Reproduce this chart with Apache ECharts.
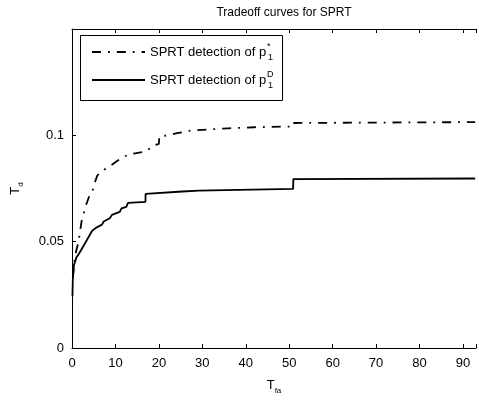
<!DOCTYPE html>
<html>
<head>
<meta charset="utf-8">
<script src="https://cdn.jsdelivr.net/npm/echarts@6/dist/echarts.min.js"></script>
<style>html,body{margin:0;padding:0;background:#fff;}#c{width:479px;height:400px;}</style>
</head>
<body>
<div id="c"></div>
<script>
// Data
const starX = [0.2, 0.5, 1.0, 1.5, 2.2, 3.1, 3.9, 4.6, 5.0, 5.8, 6.4, 7.5, 8.7, 10.3, 11.4, 13.0, 14.8, 17.1, 18.5, 20.0, 20.1, 22.0, 24.2, 27.4, 30, 36, 42, 48, 50.5, 50.6, 60, 70, 80, 92.8];
const starY = [0.033, 0.040, 0.046, 0.050, 0.0595, 0.0664, 0.071, 0.0725, 0.0763, 0.081, 0.0824, 0.084, 0.0855, 0.0878, 0.0893, 0.091, 0.0916, 0.0924, 0.095, 0.096, 0.0995, 0.100, 0.101, 0.1023, 0.1026, 0.1033, 0.1038, 0.1041, 0.1041, 0.1058, 0.1059, 0.106, 0.1061, 0.1062];
const dX = [0.1, 0.2, 0.45, 1.0, 1.6, 3.1, 4.6, 5.5, 6.9, 7.3, 8.7, 9.2, 11.0, 11.4, 12.5, 12.9, 16.9, 16.95, 25.4, 29.2, 50.9, 50.95, 92.8];
const dY = [0.0244, 0.033, 0.039, 0.0425, 0.0443, 0.0496, 0.055, 0.0565, 0.058, 0.0595, 0.061, 0.0626, 0.064, 0.0657, 0.0664, 0.0682, 0.0687, 0.0725, 0.0736, 0.074, 0.0748, 0.0794, 0.0797];
const xTickLabels = [0, 10, 20, 30, 40, 50, 60, 70, 80, 90];
const yTickLabels = ['0', '0.05', '0.1'];
const seriesNames = ['SPRT detection of p1*', 'SPRT detection of p1D'];
const legendSup = ['*', 'D'];

const FONT = 'Liberation Sans, Arial, Helvetica, sans-serif';
const DASHDOT = [9, 7, 1.8, 7];
const zip = (xs, ys) => xs.map((x, i) => [x, ys[i]]);

const chart = echarts.init(document.getElementById('c'), null, {renderer: 'canvas'});
const axisCommon = {
  type: 'value', min: 0, max: 93, interval: 10,
  axisLine: {show: true, lineStyle: {color: '#000', width: 1}},
  axisTick: {show: true, inside: true, length: 4, lineStyle: {color: '#000'}},
  splitLine: {show: false}
};

// Legend drawn as graphic (box, line samples, real text)
const legendGraphic = [
  {type: 'rect', left: 80, top: 35, shape: {width: 202, height: 65},
   style: {fill: '#fff', stroke: '#000', lineWidth: 1}, z: 100}
];
seriesNames.forEach((n, i) => {
  const y = 52 + i * 28;
  legendGraphic.push({
    type: 'line', shape: {x1: 92, y1: y, x2: 145, y2: y}, z: 101,
    style: {stroke: '#000', lineWidth: 1.8, lineDash: i === 0 ? DASHDOT : null}
  });
  legendGraphic.push({
    type: 'text', x: 150, y: y, z: 101,
    style: {
      text: '{t|SPRT detection of p}{sup|' + legendSup[i] + '}{sub|1}',
      verticalAlign: 'middle', fill: '#000', font: '13px ' + FONT,
      rich: {
        t: {fontFamily: FONT, fontSize: 13, fill: '#000'},
        sup: {fontFamily: FONT, fontSize: 9, fill: '#000', width: 0, padding: [0, 0, 11, 1]},
        sub: {fontFamily: FONT, fontSize: 9, fill: '#000', padding: [11, 0, 0, 1]}
      }
    }
  });
});

const option = {
  animation: false,
  backgroundColor: '#fff',
  title: {
    text: 'Tradeoff curves for SPRT', left: 279, top: 2, textAlign: 'center',
    textStyle: {fontFamily: FONT, fontSize: 12, fontWeight: 'normal', color: '#000'}
  },
  grid: {left: 72, top: 29, width: 408, height: 328, containLabel: false},
  graphic: legendGraphic,
  xAxis: [
    Object.assign({}, axisCommon, {
      position: 'bottom',
      name: 'T{s|fa}', nameLocation: 'middle', nameGap: 28,
      nameTextStyle: {fontFamily: FONT, fontSize: 13, color: '#000',
        rich: {s: {fontFamily: FONT, fontSize: 8, color: '#000', padding: [11, 0, 0, 0]}}},
      axisLabel: {show: true, color: '#000', fontFamily: FONT, fontSize: 13, margin: 9,
        formatter: v => xTickLabels.indexOf(Math.round(v)) >= 0 && Math.abs(v - Math.round(v)) < 1e-6 ? String(v) : ''}
    }),
    Object.assign({}, axisCommon, {
      position: 'top', axisLabel: {show: false}
    })
  ],
  yAxis: [{
    type: 'value', min: 0, max: 0.15, interval: 0.05,
    axisLine: {show: true, lineStyle: {color: '#000', width: 1}},
    axisTick: {show: true, inside: true, length: 4, lineStyle: {color: '#000'}},
    splitLine: {show: false},
    name: 'T{s|d}', nameLocation: 'middle', nameGap: 47, nameRotate: 90,
    nameTextStyle: {fontFamily: FONT, fontSize: 13, color: '#000',
      rich: {s: {fontFamily: FONT, fontSize: 8, color: '#000', padding: [11, 0, 0, 0]}}},
    axisLabel: {show: true, color: '#000', fontFamily: FONT, fontSize: 13, margin: 8,
      formatter: v => {
        const s = String(Math.round(v * 1000) / 1000);
        return yTickLabels.indexOf(s) >= 0 ? s : '';
      }}
  }],
  series: [
    {
      name: seriesNames[0], type: 'line', data: zip(starX, starY), showSymbol: false, symbol: 'none',
      xAxisIndex: 0, yAxisIndex: 0,
      lineStyle: {color: '#000', width: 1.8, type: DASHDOT}
    },
    {
      name: seriesNames[1], type: 'line', data: zip(dX, dY), showSymbol: false, symbol: 'none',
      xAxisIndex: 0, yAxisIndex: 0,
      lineStyle: {color: '#000', width: 1.8, type: 'solid'}
    }
  ]
};
chart.setOption(option);
</script>
</body>
</html>
